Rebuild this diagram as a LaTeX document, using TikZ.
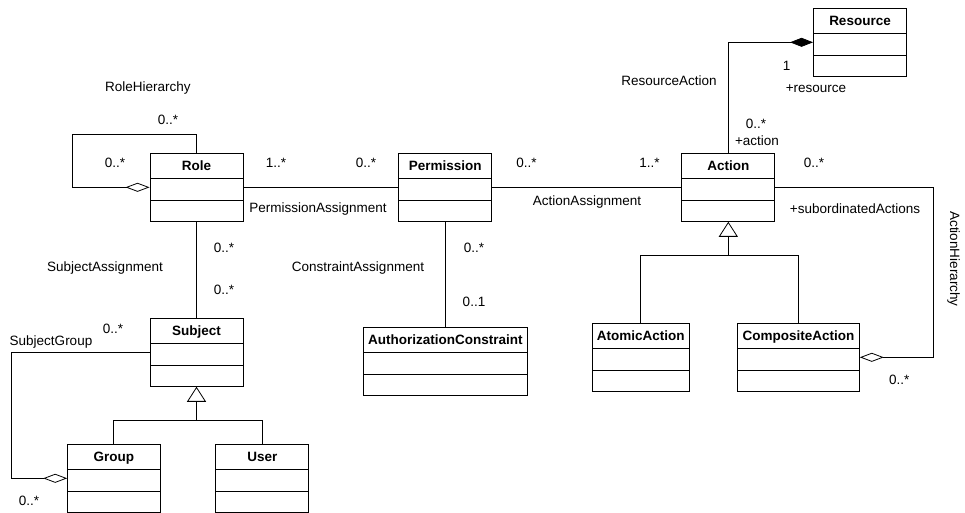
\documentclass[tikz,border=0pt]{standalone}
\usepackage{fontspec}
\setmainfont{Liberation Sans}
\usetikzlibrary{arrows.meta}
\newcommand{\umlfont}{\fontsize{13.5}{16}\selectfont}
\tikzset{
  umlclass/.style={draw, line width=0.9pt, minimum width=#1, minimum height=68pt, inner sep=0pt,
    text height=16.7pt, text depth=51.3pt, font=\umlfont\bfseries,
    path picture={\draw[line width=0.9pt]
      ([yshift=-25pt]path picture bounding box.north west) -- ([yshift=-25pt]path picture bounding box.north east)
      ([yshift=-46.7pt]path picture bounding box.north west) -- ([yshift=-46.7pt]path picture bounding box.north east);}},
  umlclass/.default=93pt,
  tag/.style={font=\umlfont, inner sep=0pt, text height=9.7pt, text depth=0pt},
  assoc/.style={line width=0.8pt},
  aggreg/.style={assoc, -{Diamond[open, length=24pt, width=9pt]}},
  compos/.style={assoc, -{Diamond[length=23pt, width=9pt]}},
  inherit/.style={assoc, -{Triangle[open, length=15pt, width=19pt]}}
}
\begin{document}
\begin{tikzpicture}[x=1pt, y=-1pt]
\useasboundingbox[fill=white] (0,0) rectangle (965,512);
\node[umlclass] (role) at (196.5,187.3) {Role};
\node[umlclass] (permission) at (445.3,187.3) {Permission};
\node[umlclass] (action) at (728.3,187.3) {Action};
\node[umlclass] (resource) at (860,42.3) {Resource};
\node[umlclass=164.3pt] (constraint) at (445.3,361.7) {AuthorizationConstraint};
\node[umlclass] (subject) at (196.5,352.3) {Subject};
\node[umlclass=92.3pt] (group) at (113.8,478.3) {Group};
\node[umlclass] (user) at (262.3,478.3) {User};
\node[umlclass=96.7pt] (atomic) at (640.7,357.3) {AtomicAction};
\node[umlclass=121.7pt] (composite) at (798.5,357.3) {CompositeAction};

\draw[assoc] (role) -- (permission);
\draw[assoc] (permission) -- (action);
\draw[assoc] (role) -- (subject);
\draw[assoc] (permission) -- (constraint);
\draw[aggreg] (role.north) |- ++(-124.5,-18.3) |- (role.west);
\draw[aggreg] (subject.west) -- ++(-138.3,0) |- (group.west);
\draw[compos] (action.north) |- (resource.west);
\draw[aggreg] (action.east) -- ++(158.3,0) |- (composite.east);
\coordinate (sgen) at ([yshift=-33.3pt]subject.south);
\draw[inherit] (sgen) -- (subject.south);
\draw[assoc] (group.north) |- (sgen) -| (user.north);
\coordinate (agen) at ([yshift=-33.3pt]action.south);
\draw[inherit] (agen) -- (action.south);
\draw[assoc] (atomic.north) |- (agen) -| (composite.north);

\node[tag] (rhname) at (148,87) {RoleHierarchy};
\node[tag] (rhtop) at (168,120) {0..*};
\node[tag] (rhleft) at (115,163) {0..*};
\node[tag] (parole) at (276,163) {1..*};
\node[tag] (paperm) at (366,163) {0..*};
\node[tag] (paname) at (318,208) {PermissionAssignment};
\node[tag] (sarole) at (224,247.7) {0..*};
\node[tag] (saname) at (105,266.7) {SubjectAssignment};
\node[tag] (sasubj) at (224,290) {0..*};
\node[tag] (caname) at (358,267) {ConstraintAssignment};
\node[tag] (caperm) at (474,247.3) {0..*};
\node[tag] (cacons) at (474,302) {0..1};
\node[tag] (sgsubj) at (113,329) {0..*};
\node[tag] (sgname) at (51,340.7) {SubjectGroup};
\node[tag] (sggroup) at (29,501) {0..*};
\node[tag] (aaperm) at (526.4,163) {0..*};
\node[tag] (aaact) at (649.6,163) {1..*};
\node[tag] (aaname) at (587,201) {ActionAssignment};
\node[tag] (raname) at (669,81) {ResourceAction};
\node[tag] (rares) at (786.7,65.7) {1};
\node[tag] (raresrole) at (816,87.3) {+resource};
\node[tag] (raact) at (756,123.3) {0..*};
\node[tag] (raactrole) at (757,141) {+action};
\node[tag] (ahact) at (814,163) {0..*};
\node[tag] (ahrole) at (855,209) {+subordinatedActions};
\node[tag, rotate=-90] (ahname) at (955,259) {ActionHierarchy};
\node[tag] (ahcomp) at (899.3,380) {0..*};
\end{tikzpicture}
\end{document}
